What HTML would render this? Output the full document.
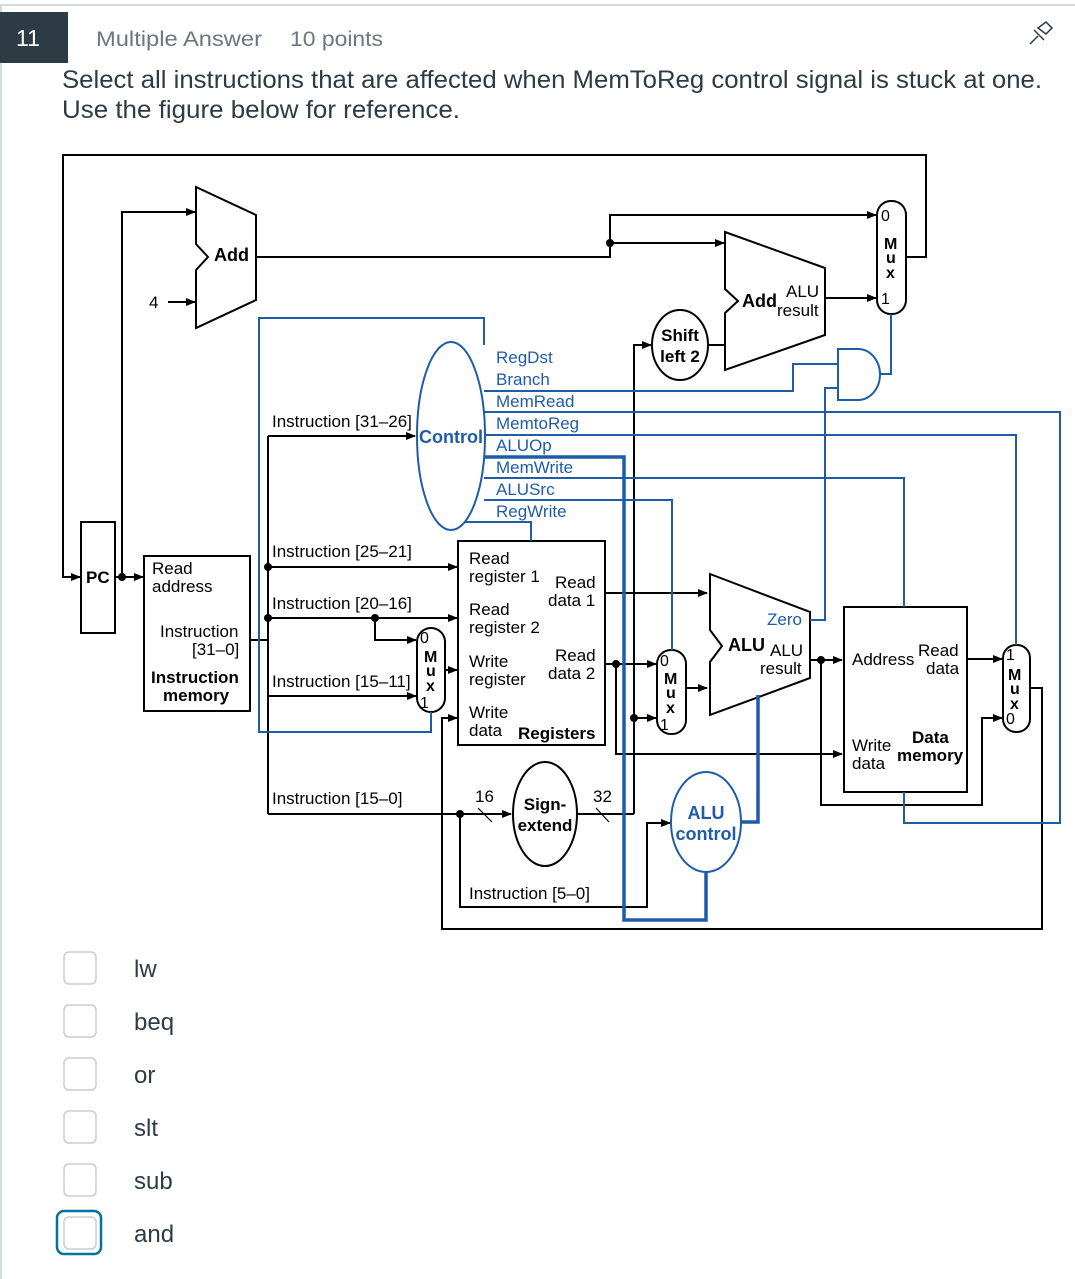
<!DOCTYPE html>
<html><head><meta charset="utf-8"><style>
body{margin:0;background:#fff;width:1075px;height:1279px;overflow:hidden;font-family:"Liberation Sans",sans-serif;}
svg{position:absolute;left:0;top:0}
</style></head><body>
<svg width="1075" height="1279" viewBox="0 0 1075 1279" font-family="Liberation Sans, sans-serif">
<defs>
<marker id="a" markerWidth="10" markerHeight="8" refX="9" refY="4" orient="auto" markerUnits="userSpaceOnUse"><path d="M0,0 L10,4 L0,8 Z" fill="#000"/></marker>
</defs>
<line x1="0" y1="5" x2="1075" y2="5" stroke="#c7cdd1" stroke-width="1.5"/>
<line x1="1" y1="5" x2="1" y2="1279" stroke="#c7cdd1" stroke-width="1.5"/>
<rect x="0" y="12" width="68" height="51" fill="#2d3b45"/>
<text x="16" y="46" font-size="23" fill="#fff">11</text>
<text x="96" y="46" font-size="21" fill="#6b7780" textLength="166" lengthAdjust="spacingAndGlyphs">Multiple Answer</text>
<text x="290" y="46" font-size="21" fill="#6b7780" textLength="93" lengthAdjust="spacingAndGlyphs">10 points</text>
<g stroke="#2d3b45" stroke-width="1.5" fill="none"><path d="M1030,44 L1038,36 M1034,30 L1044,40 M1038,28 L1046,22 L1052,28 L1046,34 Z"/></g>
<text x="62" y="88" font-size="25" fill="#2d3b45" textLength="980" lengthAdjust="spacingAndGlyphs">Select all instructions that are affected when MemToReg control signal is stuck at one.</text>
<text x="62" y="118" font-size="25" fill="#2d3b45" textLength="398" lengthAdjust="spacingAndGlyphs">Use the figure below for reference.</text>

<g stroke="#000" stroke-width="2" fill="none">
<path d="M905,257 H926 V155 H63 V577 H80" marker-end="url(#a)"/>
<rect x="81" y="522" width="34" height="111"/>
<path d="M115,577 H143" marker-end="url(#a)"/>
<path d="M122,577 V212 H195" marker-end="url(#a)"/>
<path d="M196,187 L256,215 L256,300 L196,328 L196,270 L208,257 L196,244 Z"/>
<path d="M168,302 H195" marker-end="url(#a)"/>
<path d="M256,257 H610 V243 H724" marker-end="url(#a)"/>
<path d="M610,243 V215 H876" marker-end="url(#a)"/>
<path d="M725,232 L825,268 L825,335 L725,370 L725,313 L738,301 L725,289 Z"/>
<path d="M825,298 H876" marker-end="url(#a)"/>
<rect x="877" y="201" width="29" height="113" rx="14"/>
<ellipse cx="680" cy="345" rx="28" ry="35"/>
<path d="M708,345 H725"/>
<path d="M634,814 V345 H651" marker-end="url(#a)"/>
<rect x="144" y="556" width="106" height="155"/>
<path d="M250,640 H268 M268,436 V814"/>
<path d="M268,436 H415" marker-end="url(#a)"/>
<path d="M268,567 H457" marker-end="url(#a)"/>
<path d="M268,618 H457" marker-end="url(#a)"/>
<path d="M375,618 V640 H416" marker-end="url(#a)"/>
<path d="M268,696 H416" marker-end="url(#a)"/>
<path d="M268,814 H511" marker-end="url(#a)"/>
<rect x="417" y="628" width="28" height="84" rx="14"/>
<path d="M445,670 H457" marker-end="url(#a)"/>
<rect x="458" y="541" width="147" height="204"/>
<ellipse cx="545" cy="814" rx="32" ry="52"/>
<path d="M577,814 H634"/>
<path d="M634,718 H656" marker-end="url(#a)"/>
<path d="M605,593 H707" marker-end="url(#a)"/>
<path d="M605,664 H656" marker-end="url(#a)"/>
<path d="M616,664 V754 H842" marker-end="url(#a)"/>
<rect x="657" y="650" width="29" height="84" rx="14"/>
<path d="M686,688 H707" marker-end="url(#a)"/>
<path d="M710,574 L810,612 L810,678 L710,715 L710,662 L722,646 L710,630 Z"/>
<path d="M810,660 H842" marker-end="url(#a)"/>
<path d="M821,660 V805 H982 V718 H1002" marker-end="url(#a)"/>
<rect x="844" y="607" width="123" height="185"/>
<path d="M967,659 H1002" marker-end="url(#a)"/>
<rect x="1003" y="645" width="27" height="87" rx="13"/>
<path d="M1030,688 H1042 V929 H442 V718 H457" marker-end="url(#a)"/>
<path d="M460,814 V907 H647 V823 H670" marker-end="url(#a)"/>
<path d="M478,808 L492,822 M596,808 L609,822" stroke-width="1.2"/>
</g>
<g fill="#000"><circle cx="122" cy="577" r="4"/><circle cx="610" cy="243" r="4"/><circle cx="268" cy="567" r="4"/><circle cx="268" cy="618" r="4"/><circle cx="375" cy="618" r="4"/><circle cx="460" cy="814" r="4"/><circle cx="616" cy="664" r="4"/><circle cx="634" cy="718" r="4"/><circle cx="821" cy="660" r="4"/></g>

<g stroke="#1f5ca8" stroke-width="2" fill="none">
<ellipse cx="451" cy="436" rx="34" ry="94"/>
<path d="M484,345 V318 H259 V732 H431 V712"/>
<path d="M484,391 H793 V364 H838"/>
<path d="M838,349 H858 A22,25.5 0 0 1 858,400 H838 Z"/>
<path d="M810,620 H825 V388 H838"/>
<path d="M880,374 H891 V314"/>
<path d="M484,412 H1060 V823 H904 V792"/>
<path d="M484,435 H1016 V645"/>
<path d="M484,478 H904 V607"/>
<path d="M484,500 H672 V650"/>
<path d="M465,522 H531 V541"/>
<ellipse cx="706" cy="822" rx="35" ry="50"/>
</g>
<g stroke="#1f5ca8" stroke-width="3.5" fill="none">
<path d="M484,457 H624 V920 H706 V872"/>
<path d="M741,822 H758 V695"/>
</g>

<g font-size="17" fill="#000">
<text x="214" y="261" font-weight="bold" font-size="18">Add</text>
<text x="149" y="308">4</text>
<text x="86" y="583" font-weight="bold">PC</text>
<text x="742" y="307" font-weight="bold" font-size="18">Add</text>
<text x="786" y="297">ALU</text>
<text x="777" y="316">result</text>
<text x="881" y="221" font-size="16">0</text>
<text x="881" y="304" font-size="16">1</text>
<text x="884" y="249" font-weight="bold" font-size="16">M</text><text x="886" y="263" font-weight="bold" font-size="16">u</text><text x="886" y="278" font-weight="bold" font-size="16">x</text>
<text x="680" y="341" text-anchor="middle" font-weight="bold">Shift</text>
<text x="680" y="362" text-anchor="middle" font-weight="bold">left 2</text>
<text x="152" y="574">Read</text><text x="152" y="592">address</text>
<text x="160" y="637">Instruction</text><text x="192" y="655">[31–0]</text>
<text x="151" y="683" font-weight="bold">Instruction</text><text x="163" y="701" font-weight="bold">memory</text>
<text x="272" y="427">Instruction [31–26]</text>
<text x="272" y="557">Instruction [25–21]</text>
<text x="272" y="609">Instruction [20–16]</text>
<text x="272" y="687">Instruction [15–11]</text>
<text x="272" y="804">Instruction [15–0]</text>
<text x="469" y="899">Instruction [5–0]</text>
<text x="420" y="643" font-size="16">0</text><text x="420" y="708" font-size="16">1</text>
<text x="424" y="662" font-weight="bold" font-size="16">M</text><text x="426" y="676" font-weight="bold" font-size="16">u</text><text x="426" y="691" font-weight="bold" font-size="16">x</text>
<text x="469" y="564">Read</text><text x="469" y="582">register 1</text>
<text x="555" y="588">Read</text><text x="548" y="606">data 1</text>
<text x="469" y="615">Read</text><text x="469" y="633">register 2</text>
<text x="469" y="667">Write</text><text x="469" y="685">register</text>
<text x="555" y="661">Read</text><text x="548" y="679">data 2</text>
<text x="469" y="718">Write</text><text x="469" y="736">data</text>
<text x="518" y="739" font-weight="bold">Registers</text>
<text x="475" y="802">16</text><text x="593" y="802">32</text>
<text x="545" y="810" text-anchor="middle" font-weight="bold">Sign-</text>
<text x="545" y="831" text-anchor="middle" font-weight="bold">extend</text>
<text x="660" y="666" font-size="16">0</text><text x="660" y="730" font-size="16">1</text>
<text x="664" y="684" font-weight="bold" font-size="16">M</text><text x="666" y="698" font-weight="bold" font-size="16">u</text><text x="666" y="713" font-weight="bold" font-size="16">x</text>
<text x="728" y="651" font-weight="bold" font-size="18">ALU</text>
<text x="770" y="656">ALU</text><text x="760" y="674">result</text>
<text x="852" y="665">Address</text>
<text x="918" y="656">Read</text><text x="926" y="674">data</text>
<text x="852" y="751">Write</text><text x="852" y="769">data</text>
<text x="912" y="743" font-weight="bold">Data</text><text x="897" y="761" font-weight="bold">memory</text>
<text x="1006" y="660" font-size="16">1</text><text x="1006" y="724" font-size="16">0</text>
<text x="1008" y="680" font-weight="bold" font-size="16">M</text><text x="1010" y="694" font-weight="bold" font-size="16">u</text><text x="1010" y="709" font-weight="bold" font-size="16">x</text>
</g>
<g font-size="17" fill="#1f5ca8">
<text x="451" y="443" text-anchor="middle" font-weight="bold" font-size="18">Control</text>
<text x="496" y="363">RegDst</text><text x="496" y="385">Branch</text><text x="496" y="407">MemRead</text>
<text x="496" y="429">MemtoReg</text><text x="496" y="451">ALUOp</text><text x="496" y="473">MemWrite</text>
<text x="496" y="495">ALUSrc</text><text x="496" y="517">RegWrite</text>
<text x="767" y="625">Zero</text>
<text x="706" y="819" text-anchor="middle" font-weight="bold" font-size="18">ALU</text>
<text x="706" y="840" text-anchor="middle" font-weight="bold" font-size="18">control</text>
</g>

<g stroke="#c7cdd1" stroke-width="1.5" fill="#fff">
<rect x="64" y="952" width="32" height="32" rx="5"/>
<rect x="64" y="1005" width="32" height="32" rx="5"/>
<rect x="64" y="1058" width="32" height="32" rx="5"/>
<rect x="64" y="1111" width="32" height="32" rx="5"/>
<rect x="64" y="1164" width="32" height="32" rx="5"/>
<rect x="64" y="1217" width="32" height="32" rx="5"/>
</g>
<rect x="57" y="1211" width="44" height="43" rx="7" fill="none" stroke="#0770a3" stroke-width="2.5"/>
<g font-size="24" fill="#2d3b45">
<text x="134" y="977">lw</text><text x="134" y="1030">beq</text><text x="134" y="1083">or</text>
<text x="134" y="1136">slt</text><text x="134" y="1189">sub</text><text x="134" y="1242">and</text>
</g>
</svg>
</body></html>
